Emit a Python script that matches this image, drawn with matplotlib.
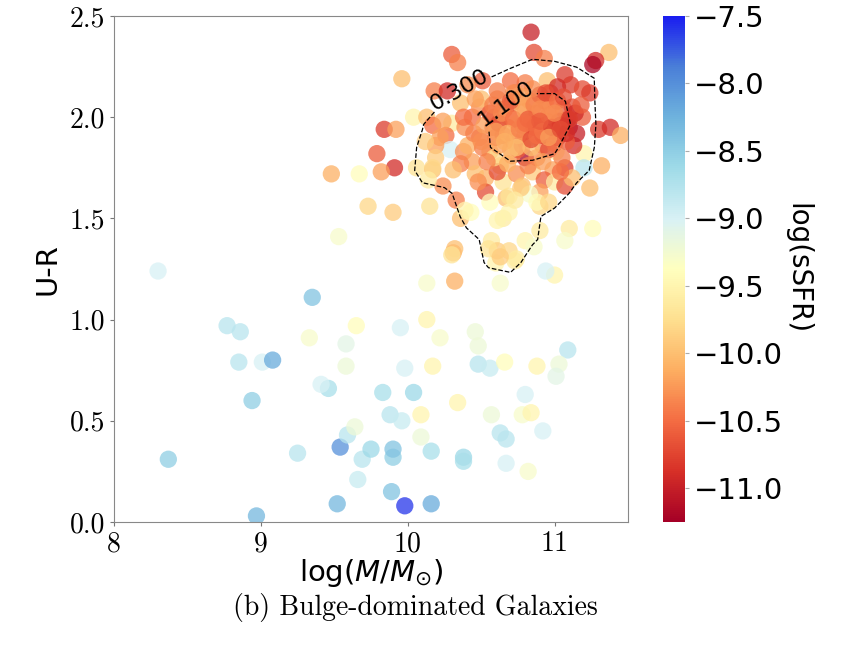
import numpy as np
import matplotlib.pyplot as plt
from matplotlib.colors import LinearSegmentedColormap

# stellar mass, colour and specific SFR
mass = [
    8.30, 9.35, 8.77, 8.86, 8.85, 9.01, 9.08, 8.94, 9.46, 9.41, 9.33, 9.65, 9.58, 9.58,
    8.37, 9.25, 9.54, 9.59, 9.64, 9.69, 9.66, 9.52, 8.97,
    10.31, 10.32, 10.13, 10.60, 10.73, 10.63, 11.00, 10.94, 10.13, 9.95, 10.22, 10.46,
    10.48, 9.98, 10.17, 10.48, 10.56, 10.66, 10.88, 11.09, 11.03, 11.01, 9.83, 10.04,
    10.34, 9.88, 9.96, 10.09, 10.09, 10.57, 10.78, 10.84, 10.80, 10.63, 10.67, 10.92,
    9.75, 9.90, 9.90, 10.16, 10.38, 10.38, 10.67, 10.82, 9.89, 9.98, 10.16,
    9.79, 9.91, 9.82, 9.48, 9.67, 10.06, 10.17, 10.33, 9.73, 9.90, 10.15, 10.36, 10.43,
    9.53, 10.32, 10.30,
    10.30, 9.96, 10.18, 10.27, 9.84, 9.92, 10.04,
    10.84, 10.86, 10.93, 11.37, 11.28, 11.26, 11.07, 11.11, 11.19, 11.24, 10.95, 10.80,
    10.73, 10.61, 10.51, 10.41, 10.34, 10.83, 10.93, 11.09, 11.19, 11.30, 11.38, 11.45,
    10.13, 10.17, 10.30, 10.39, 10.44, 10.49, 10.36, 10.26, 10.22, 10.29, 10.19, 10.12,
    10.19, 10.17, 10.38, 10.44, 10.36, 10.56, 10.49, 10.58, 10.65, 10.63, 10.53, 10.53,
    10.46, 10.65, 10.67, 10.56, 10.65,
    10.90, 10.94, 10.69, 10.78, 10.90, 10.99, 11.10, 10.83, 10.92, 11.01, 10.80, 10.71,
    11.20, 11.20, 11.07, 10.99, 10.85, 10.74, 10.93, 11.00, 11.07, 10.90, 10.78, 10.83,
    11.12, 11.24, 11.32, 10.90, 10.69, 10.69, 11.10, 11.26,
    11.07, 10.90, 10.57, 10.61, 10.69, 10.74, 10.80, 10.86, 10.61, 10.48, 10.77, 10.73,
    10.88, 10.96, 10.39, 10.61,
    10.50, 10.61, 10.71, 10.24, 10.38, 10.59, 10.75, 10.84, 11.03, 10.55, 10.63,
    10.41, 10.51, 10.59, 10.31, 10.24, 10.14, 10.75,
    # crowded core of the red sequence (dots hidden under each other)
    10.45, 10.52, 10.60, 10.68, 10.72, 10.80, 10.86, 10.95, 11.02, 11.06, 10.98, 10.88,
    10.78, 10.66, 10.56, 10.46, 10.70, 10.78, 10.88, 10.96, 11.05, 11.13, 11.15, 11.12,
    10.62, 10.54, 10.68, 10.82, 10.92, 11.04, 10.97, 10.85, 10.70, 11.02, 10.75, 10.92,
    10.84, 10.62, 10.50, 11.08,
    10.64, 10.72, 10.80, 10.88, 10.96, 11.04, 10.68, 10.76, 10.84, 10.92, 11.00, 11.08,
    10.70, 10.78, 10.86, 10.94, 11.02, 10.60, 10.74, 10.82, 10.90, 10.98, 11.06, 11.14,
    10.66, 10.88, 11.00, 11.10, 11.18, 10.58, 10.96, 10.80, 11.04, 10.72, 10.90,
]
u_r = [
    1.24, 1.11, 0.97, 0.94, 0.79, 0.79, 0.80, 0.60, 0.66, 0.68, 0.91, 0.97, 0.88, 0.77,
    0.31, 0.34, 0.37, 0.43, 0.47, 0.31, 0.21, 0.09, 0.03,
    1.33, 1.19, 1.18, 1.28, 1.29, 1.18, 1.22, 1.24, 1.00, 0.96, 0.91, 0.94,
    0.87, 0.76, 0.77, 0.78, 0.76, 0.79, 0.77, 0.85, 0.78, 0.72, 0.64, 0.64,
    0.59, 0.53, 0.50, 0.53, 0.42, 0.53, 0.53, 0.54, 0.63, 0.44, 0.41, 0.45,
    0.36, 0.32, 0.36, 0.35, 0.32, 0.30, 0.29, 0.25, 0.15, 0.08, 0.09,
    1.82, 1.75, 1.73, 1.72, 1.72, 1.75, 1.74, 1.59, 1.56, 1.53, 1.56, 1.50, 1.53,
    1.41, 1.35, 1.32,
    2.31, 2.19, 2.13, 2.13, 1.94, 1.94, 2.00,
    2.42, 2.32, 2.29, 2.32, 2.28, 2.26, 2.21, 2.16, 2.14, 2.12, 2.18, 2.17,
    2.12, 2.13, 2.18, 2.16, 2.27, 2.08, 2.08, 1.99, 2.00, 1.94, 1.95, 1.91,
    2.00, 1.96, 1.97, 1.95, 2.00, 2.05, 2.07, 1.91, 1.90, 1.84, 1.86, 1.88,
    1.80, 1.75, 1.83, 1.78, 1.77, 1.83, 1.90, 1.95, 1.91, 1.76, 1.70, 1.63,
    1.72, 1.68, 1.60, 1.58, 1.50,
    2.11, 2.08, 2.00, 1.96, 1.95, 1.93, 1.95, 1.90, 1.86, 1.83, 1.80, 1.81,
    1.82, 1.75, 1.75, 1.74, 1.73, 1.72, 1.69, 1.68, 1.66, 1.63, 1.66, 1.62,
    1.70, 1.65, 1.76, 1.56, 1.61, 1.53, 1.45, 1.45,
    1.39, 1.44, 1.39, 1.34, 1.34, 1.30, 1.39, 1.36, 1.73, 1.68, 1.65, 1.59,
    1.58, 1.58, 1.54, 1.49,
    2.09, 2.09, 2.07, 1.98, 2.00, 2.00, 1.97, 1.98, 1.98, 1.35, 1.31,
    1.86, 1.85, 1.80, 1.74, 1.66, 1.69, 1.84,
    1.92, 1.96, 1.90, 1.95, 1.88, 1.93, 1.95, 1.98, 1.90, 2.04, 2.05, 2.02,
    2.05, 2.04, 2.02, 2.09, 1.84, 1.86, 1.80, 1.84, 1.80, 1.86, 1.92, 2.05,
    1.86, 1.78, 1.77, 1.76, 1.78, 1.73, 2.12, 2.14, 2.18, 2.15, 1.91, 1.91,
    1.85, 1.97, 1.88, 1.88,
    2.02, 1.99, 2.03, 1.97, 2.01, 1.96, 1.92, 1.94, 1.89, 1.93, 1.87, 1.92,
    2.08, 2.10, 2.06, 2.12, 2.08, 1.93, 1.85, 1.99, 2.04, 1.95, 2.10, 2.02,
    1.88, 1.91, 2.02, 1.99, 2.06, 2.06, 1.90, 1.97, 1.94, 2.12, 1.98,
]
ssfr = [
    -9.0, -8.4, -8.8, -8.8, -8.8, -9.0, -8.2, -8.5, -8.7, -9.0, -9.3, -9.4, -9.1, -9.2,
    -8.5, -8.8, -8.0, -8.8, -9.2, -8.8, -8.9, -8.3, -8.3,
    -10.1, -10.1, -9.3, -9.5, -9.6, -9.3, -9.5, -9.0, -9.5, -9.0, -9.3, -9.2,
    -9.2, -9.0, -9.5, -8.8, -8.9, -9.4, -9.5, -8.8, -9.2, -9.1, -8.7, -8.6,
    -9.5, -8.8, -8.9, -9.5, -9.2, -9.2, -9.3, -9.5, -9.0, -8.8, -8.8, -9.0,
    -8.6, -8.5, -8.4, -8.7, -8.6, -8.7, -9.0, -9.3, -8.4, -7.6, -8.2,
    -10.6, -10.9, -10.2, -10.1, -9.4, -9.7, -10.0, -10.4, -9.8, -9.9, -9.7, -10.0, -9.4,
    -9.3, -10.0, -9.7,
    -10.6, -10.0, -10.4, -10.9, -10.8, -10.2, -9.5,
    -11.0, -10.7, -10.4, -10.0, -10.9, -11.2, -10.8, -10.8, -10.7, -10.8, -10.0, -10.4,
    -10.2, -10.4, -10.6, -10.3, -10.4, -10.3, -10.2, -11.0, -10.6, -10.8, -10.9, -10.1,
    -10.0, -10.5, -9.6, -10.3, -10.5, -10.3, -10.0, -10.5, -10.2, -9.0, -10.2, -9.9,
    -9.9, -9.8, -10.3, -10.2, -10.4, -10.0, -10.4, -10.6, -10.8, -9.9, -10.1, -10.7,
    -10.0, -9.7, -10.0, -9.4, -9.6,
    -10.8, -10.5, -10.2, -10.3, -10.6, -10.8, -11.1, -10.1, -10.4, -9.6, -11.2, -10.3,
    -9.5, -8.8, -10.8, -10.2, -9.9, -10.3, -10.6, -9.6, -10.7, -10.2, -10.0, -9.3,
    -10.0, -10.0, -10.1, -9.8, -9.7, -9.5, -9.6, -9.4,
    -9.3, -9.6, -9.6, -9.9, -9.8, -9.6, -9.5, -9.3, -10.7, -10.3, -9.9, -9.6,
    -9.4, -9.8, -9.5, -9.5,
    -10.0, -10.4, -10.7, -10.2, -10.5, -10.3, -10.0, -10.4, -10.8, -9.7, -9.9,
    -10.1, -10.4, -9.8, -10.0, -10.3, -9.6, -10.6,
    -10.4, -10.2, -10.5, -10.3, -10.6, -10.4, -10.7, -10.5, -10.9, -10.6, -10.3, -10.5,
    -10.1, -10.4, -10.6, -10.2, -10.0, -10.5, -10.3, -10.7, -10.4, -10.9, -11.0, -10.7,
    -10.2, -10.4, -10.1, -10.4, -10.2, -10.5, -10.6, -10.3, -10.5, -10.9, -10.2, -10.8,
    -10.0, -10.7, -10.3, -10.6,
    -10.3, -10.5, -10.2, -10.6, -10.4, -10.8, -10.1, -10.4, -10.7, -10.3, -10.5, -10.9,
    -10.6, -10.2, -10.4, -10.7, -10.5, -10.2, -10.0, -10.6, -10.3, -10.8, -10.7, -10.9,
    -10.1, -10.5, -10.3, -10.8, -10.6, -10.4, -10.2, -10.5, -10.7, -10.3, -10.6,
]
contour_levels = [0.3, 1.1]


def gaussian_kde(x, y, gx, gy, bw_scale=1.0):
    """Plain 2D gaussian KDE (Scott bandwidth times bw_scale, full covariance)."""
    data = np.vstack([x, y])
    n = data.shape[1]
    cov = np.cov(data) * (n ** (-1.0 / 6) * bw_scale) ** 2
    inv = np.linalg.inv(cov)
    norm = 2 * np.pi * np.sqrt(np.linalg.det(cov)) * n
    X, Y = np.meshgrid(gx, gy)
    pts = np.stack([X.ravel(), Y.ravel()])
    d = pts[:, :, None] - data[:, None, :]
    q = np.einsum('ipk,ij,jpk->pk', d, inv, d)
    return X, Y, (np.exp(-0.5 * q).sum(axis=1) / norm).reshape(X.shape)


def main():
    mass_a = np.array(mass)
    ur_a = np.array(u_r)

    cmap = LinearSegmentedColormap.from_list('sfr', [
        '#a50026', '#d73027', '#f46d43', '#fdae61', '#fee090', '#ffffbf',
        '#d8f1f5', '#9fdbe8', '#6fb3dd', '#4a7fd8', '#1a1ef0'])

    fig = plt.figure(figsize=(8.48, 6.46), dpi=100)
    ax = fig.add_axes([114 / 848, 1 - 522 / 646, 514 / 848, 506 / 646])
    cax = fig.add_axes([663 / 848, 1 - 522 / 646, 22 / 848, 506 / 646])

    sc = ax.scatter(mass_a, ur_a, c=ssfr, cmap=cmap, vmin=-11.25, vmax=-7.5,
                    s=155, alpha=0.75, edgecolors='none')

    gx = np.linspace(mass_a.min(), mass_a.max(), 22)
    gy = np.linspace(ur_a.min(), ur_a.max(), 22)
    X, Y, Z = gaussian_kde(mass_a, ur_a, gx, gy, bw_scale=0.38)
    cs = ax.contour(X, Y, Z, levels=contour_levels, colors='black',
                    linestyles='--', linewidths=0.9)
    ax.clabel(cs, fmt='%.3f', fontsize=16, inline=True,
              manual=[(10.3, 2.2), (10.62, 2.1)])

    ax.set_xlim(8, 11.5)
    ax.set_ylim(0, 2.5)
    ax.set_xticks([8, 9, 10, 11])
    ax.set_yticks([0, 0.5, 1.0, 1.5, 2.0, 2.5])
    ax.set_yticklabels(['0.0', '0.5', '1.0', '1.5', '2.0', '2.5'])
    for lab in ax.get_xticklabels() + ax.get_yticklabels():
        lab.set_fontfamily('cmr10')
        lab.set_fontsize(20)
    ax.tick_params(length=3, color='#777777')
    for sp in ax.spines.values():
        sp.set_color('#888888')

    ax.set_xlabel(r'log($M/M_{\odot}$)', fontsize=21, labelpad=0)
    ax.set_ylabel('U-R', fontsize=21, labelpad=6)

    cb = fig.colorbar(sc, cax=cax)
    cb.solids.set_alpha(1)
    cb.outline.set_visible(False)
    cb.set_ticks(np.arange(-11.0, -7.49, 0.5))
    cb.ax.tick_params(labelsize=21, length=3, color='#aaaaaa')
    cb.set_label('log(sSFR)', fontsize=20, rotation=270, labelpad=20)

    fig.text(0.49, 0.048, '(b) Bulge-dominated Galaxies', fontsize=20,
             family='cmr10', ha='center')

    fig.savefig('out.png', dpi=100)


if __name__ == "__main__":
    main()
